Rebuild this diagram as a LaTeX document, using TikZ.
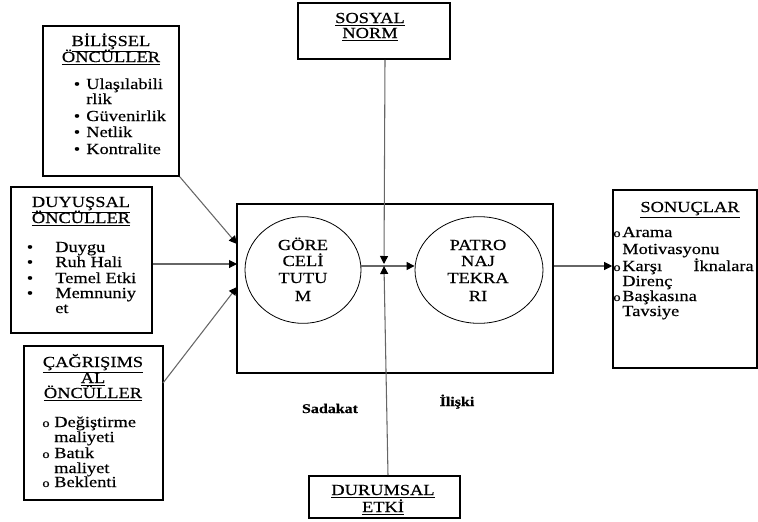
\documentclass[tikz,border=0pt]{standalone}
\usepackage{fontspec}
\setmainfont{Liberation Serif}[FakeStretch=1.2,FakeBold=0.4]
\usetikzlibrary{arrows.meta,fit,shapes.geometric}
\begin{document}
\begin{tikzpicture}[x=0.75pt,y=-0.75pt,
  font=\fontsize{11.5}{13}\selectfont,
  box/.style={draw, line width=1.2pt, inner sep=0pt},
  mainbox/.style={draw, line width=1.5pt, inner sep=0pt},
  oval/.style={draw, ellipse, line width=0.6pt, inner sep=0pt},
  conn/.style={draw=black!60, line width=0.8pt, -{Triangle[length=6pt,width=6pt,color=black]}},
  hd/.style={anchor=base, inner sep=0pt},
  txt/.style={anchor=base west, inner sep=0pt},
  txtr/.style={anchor=base east, inner sep=0pt},
  bul/.style={anchor=base, inner sep=0pt},
  ring/.style={anchor=base, inner sep=0pt, font=\fontsize{9}{10}\selectfont},
  lbl/.style={anchor=base, inner sep=0pt, font=\fontsize{10}{12}\selectfont\bfseries}]
\useasboundingbox (0,0) rectangle (758,522);

% box corners
\coordinate (b1) at (43,26);  \coordinate (b2) at (179,176);
\coordinate (d1) at (11,187); \coordinate (d2) at (152,333);
\coordinate (c1) at (24,346); \coordinate (c2) at (163,500);
\coordinate (m1) at (237,204); \coordinate (m2) at (553,373);
\coordinate (s1) at (298,3);  \coordinate (s2) at (450,59);
\coordinate (u1) at (309,476); \coordinate (u2) at (460,518);
\coordinate (r1) at (613,190); \coordinate (r2) at (757,368);

\node[box, fit=(b1)(b2)] (bil) {};
\node[box, fit=(d1)(d2)] (duy) {};
\node[box, fit=(c1)(c2)] (cag) {};
\node[mainbox, fit=(m1)(m2)] (main) {};
\node[box, fit=(s1)(s2)] (sos) {};
\node[box, fit=(u1)(u2)] (dur) {};
\node[box, fit=(r1)(r2)] (son) {};

\node[oval, minimum width=87pt, minimum height=80pt] (gore) at (303,270) {};
\node[oval, minimum width=96pt, minimum height=80pt] (patro) at (479,270) {};

% helper coordinates
\coordinate (yA) at (0,266);
\coordinate (in1) at (237,244);
\coordinate (in2) at (237,264);
\coordinate (in3) at (237,287);
\coordinate (cagout) at (163,383);
\coordinate (mtop) at (384,264);
\coordinate (mbot) at (384,266);
\coordinate (sx) at (385,0);
\coordinate (ux) at (388,0);

% connectors
\draw[conn] (bil.south east) -- (in1);
\draw[conn] (duy.east |- in2) -- (in2);
\draw[conn] (cagout) -- (in3);
\draw[conn] (gore.east |- yA) -- (patro.west |- yA);
\draw[conn] (main.east |- yA) -- (son.west |- yA);
\draw[conn] (sos.south -| sx) -- (mtop);
\draw[conn] (dur.north -| ux) -- (mbot);

% BILISSEL
\node[hd] at (111,46) {\underline{BİLİŞSEL}};
\node[hd] at (111,62) {\underline{ÖNCÜLLER}};
\foreach \y in {89,121,137,154} \node[bul] at (77,\y) {•};
\node[txt] at (86,89) {Ulaşılabili};
\node[txt] at (86,104) {rlik};
\node[txt] at (86,121) {Güvenirlik};
\node[txt] at (86,137) {Netlik};
\node[txt] at (86,154) {Kontralite};

% DUYUSSAL
\node[hd] at (81,207) {\underline{DUYUŞSAL}};
\node[hd] at (81,223) {\underline{ÖNCÜLLER}};
\foreach \y in {252,267,283,298} \node[bul] at (30,\y) {•};
\node[txt] at (55,252) {Duygu};
\node[txt] at (55,267) {Ruh Hali};
\node[txt] at (55,283) {Temel Etki};
\node[txt] at (55,298) {Memnuniy};
\node[txt] at (55,313) {et};

% CAGRISIMSAL
\node[hd] at (93,367) {\underline{ÇAĞRIŞIMS}};
\node[hd] at (93,383) {\underline{AL}};
\node[hd] at (93,398) {\underline{ÖNCÜLLER}};
\foreach \y in {427,458,487} \node[ring] at (46,\y) {o};
\node[txt] at (54,427) {Değiştirme};
\node[txt] at (54,442) {maliyeti};
\node[txt] at (54,458) {Batık};
\node[txt] at (54,473) {maliyet};
\node[txt] at (54,487) {Beklenti};

% SONUCLAR
\node[hd] at (690,212) {\underline{SONUÇLAR}};
\foreach \y in {237,271,301} \node[ring] at (617,\y) {o};
\node[txt] at (622,237) {Arama};
\node[txt] at (622,254) {Motivasyonu};
\node[txt] at (622,271) {Karşı};
\node[txtr] at (754,271) {İknalara};
\node[txt] at (622,286) {Direnç};
\node[txt] at (622,301) {Başkasına};
\node[txt] at (622,316) {Tavsiye};

% ellipses text
\node[hd] at (303,250) {GÖRE};
\node[hd] at (303,266) {CELİ};
\node[hd] at (303,283) {TUTU};
\node[hd] at (303,301) {M};
\node[hd] at (478,250) {PATRO};
\node[hd] at (478,266) {NAJ};
\node[hd] at (478,283) {TEKRA};
\node[hd] at (478,301) {RI};

% SOSYAL NORM
\node[hd] at (370,23) {\underline{SOSYAL}};
\node[hd] at (370,38) {\underline{NORM}};

% DURUMSAL ETKI
\node[hd] at (383,495) {\underline{DURUMSAL}};
\node[hd] at (383,512) {\underline{ETKİ}};

% labels
\node[lbl] at (330,413) {Sadakat};
\node[lbl] at (457,406) {İlişki};
\end{tikzpicture}
\end{document}
